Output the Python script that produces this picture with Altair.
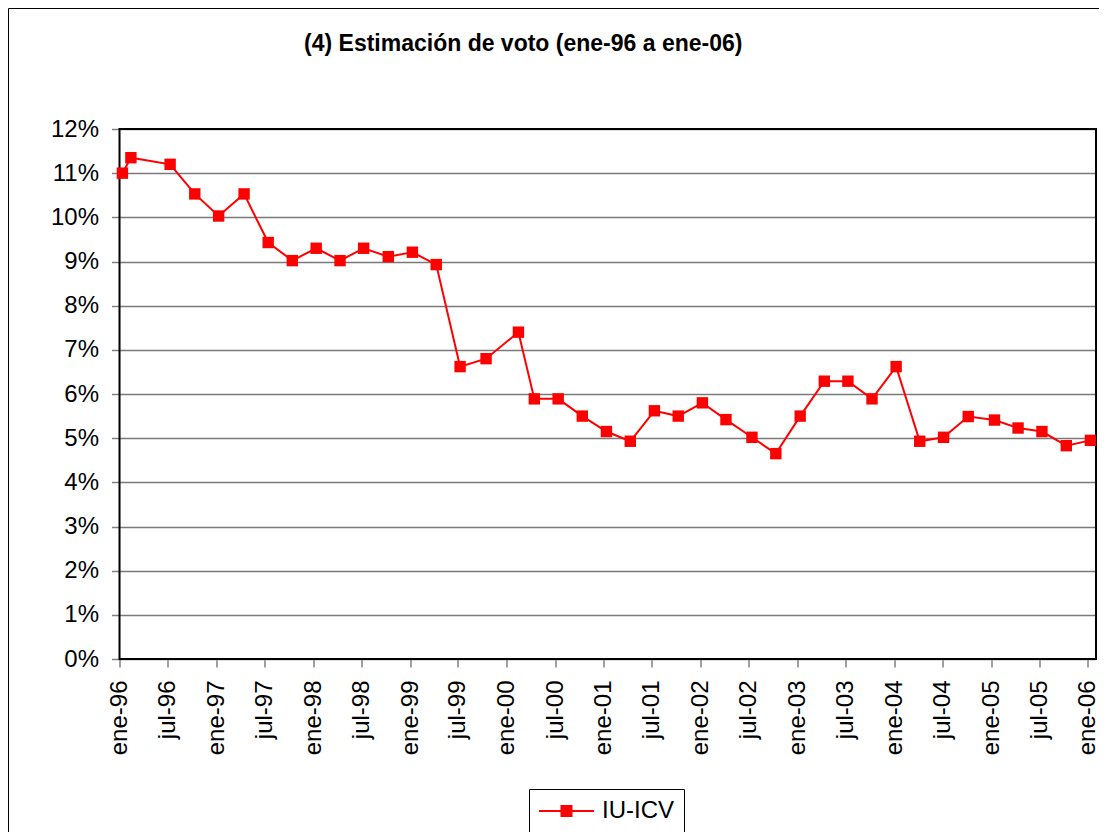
import altair as alt
import pandas as pd

# ---- data ----
fechas = [
    "1996-01-12", "1996-02-13", "1996-07-10", "1996-10-11", "1997-01-09",
    "1997-04-15", "1997-07-15", "1997-10-14", "1998-01-12", "1998-04-12",
    "1998-07-10", "1998-10-11", "1999-01-10", "1999-04-10", "1999-07-09",
    "1999-10-15", "2000-02-14", "2000-04-14", "2000-07-13", "2000-10-12",
    "2001-01-11", "2001-04-11", "2001-07-11", "2001-10-09", "2002-01-08",
    "2002-04-07", "2002-07-14", "2002-10-12", "2003-01-12", "2003-04-13",
    "2003-07-11", "2003-10-10", "2004-01-09", "2004-04-07", "2004-07-06",
    "2004-10-07", "2005-01-14", "2005-04-13", "2005-07-12", "2005-10-12",
    "2006-01-11",
]
iu_icv = [
    11.0, 11.35, 11.2, 10.53, 10.03, 10.53, 9.43, 9.02, 9.3, 9.02,
    9.3, 9.11, 9.21, 8.93, 6.62, 6.8, 7.4, 5.89, 5.89, 5.5,
    5.15, 4.93, 5.62, 5.5, 5.8, 5.42, 5.02, 4.65, 5.5, 6.29,
    6.29, 5.89, 6.62, 4.93, 5.02, 5.49, 5.41, 5.23, 5.15, 4.83,
    4.95,
]
serie = ["IU-ICV"]
anios_ticks = list(range(1996, 2007))
meses_ticks = [1, 7]
y_ticks = [i / 100 for i in range(13)]
titulo = "(4) Estimación de voto (ene-96 a ene-06)"

FONT = "Liberation Sans"

df = pd.DataFrame({
    "fecha": [f + "T00:00:00" for f in fechas],
    "voto": [v / 100 for v in iu_icv],
    "serie": serie * len(fechas),
})

tick_vals = [alt.DateTime(year=y, month=m, date=1)
             for y in anios_ticks for m in meses_ticks
             if not (y == 2006 and m == 7)]

x_enc = alt.X(
    "fecha:T",
    scale=alt.Scale(domain=[alt.DateTime(year=1996, month=1, date=1),
                            alt.DateTime(year=2006, month=2, date=1)]),
    axis=alt.Axis(
        title=None, values=tick_vals, grid=False, domain=False,
        labelExpr="(month(datum.value) == 0 ? 'ene-' : 'jul-') + timeFormat(datum.value, '%y')",
        labelAngle=270, labelAlign="right", labelBaseline="middle",
        labelFont=FONT, labelFontSize=24, labelColor="black",
        labelPadding=13, tickSize=8, tickColor="#808080", tickWidth=1.5,
        labelOverlap=False, labelFlush=False,
    ),
)
y_enc = alt.Y(
    "voto:Q",
    scale=alt.Scale(domain=[0, 0.12], nice=False, zero=True),
    axis=alt.Axis(
        title=None, values=y_ticks, format=".0%", domain=False,
        grid=True, gridColor="#7a7a7a", gridWidth=1.3,
        labelFont=FONT, labelFontSize=24, labelColor="black",
        labelPadding=13, tickSize=8, tickColor="#808080", tickWidth=1.5,
    ),
)

base = alt.Chart(df)

linea = base.mark_line(color="#FF0000", strokeWidth=2).encode(x=x_enc, y=y_enc)

simbolo = "M-2,-0.17H7.17V0.17H-2Z M1.58,-1H3.58V1H1.58Z"

puntos = base.mark_point(shape="square", filled=True, size=130, opacity=1).encode(
    x=x_enc, y=y_enc,
    color=alt.Color(
        "serie:N",
        scale=alt.Scale(domain=serie, range=["#FF0000"]),
        legend=alt.Legend(
            title=None, orient="none", legendX=409.5, legendY=660,
            symbolType=simbolo, symbolSize=144, symbolStrokeWidth=0,
            symbolOpacity=1, labelOffset=39,
            labelFont=FONT, labelFontSize=24, labelColor="black",
            padding=10, strokeColor="black", fillColor="white",
        ),
    ),
)

# decorative outer frame of the whole chart
marco = alt.Chart(alt.Data(values=[{}])).mark_rect(
    fill=None, stroke="black", strokeWidth=1
).encode(
    x=alt.value(-111), x2=alt.value(1100),
    y=alt.value(-120.5), y2=alt.value(900),
)

# black border of the plot area
borde = alt.Chart(alt.Data(values=[{}])).mark_rect(
    fill=None, stroke="black", strokeWidth=2
).encode(
    x=alt.value(0), x2=alt.value(976.5),
    y=alt.value(0), y2=alt.value(530),
)

chart = alt.layer(marco, borde, linea, puntos).properties(
    width=976.5,
    height=530,
    padding={"left": 111.5, "top": 121, "right": 3, "bottom": 173},
    autosize=alt.AutoSizeParams(type="none"),
    title=alt.TitleParams(
        titulo, font=FONT, fontSize=23, fontWeight="bold", color="black",
        anchor="middle", frame="group", dx=-84.5, offset=-66,
        baseline="alphabetic",
    ),
).configure_view(
    stroke=None, fill="white"
).configure(background="white")

chart.save("out.html", embed_options={"renderer": "svg", "actions": False})
